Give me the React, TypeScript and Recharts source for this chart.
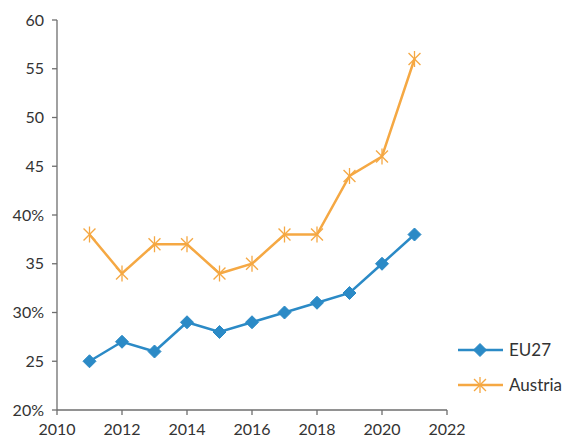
import React from "react";
import { LineChart, Line, XAxis, YAxis } from "recharts";

const years = [2011, 2012, 2013, 2014, 2015, 2016, 2017, 2018, 2019, 2020, 2021];
const eu27 = [25, 27, 26, 29, 28, 29, 30, 31, 32, 35, 38];
const austria = [38, 34, 37, 37, 34, 35, 38, 38, 44, 46, 56];
const xTicks = [2010, 2012, 2014, 2016, 2018, 2020, 2022];
const yTicks = [20, 25, 30, 35, 40, 45, 50, 55, 60];
const yTickLabels: Record<number, string> = {
  20: "20%", 25: "25", 30: "30%", 35: "35", 40: "40%", 45: "45", 50: "50", 55: "55", 60: "60",
};

const data = years.map((y, i) => ({ year: y, EU27: eu27[i], Austria: austria[i] }));

const BLUE = "#2b8ac6";
const ORANGE = "#f5a843";
const AXIS = "#6e6e6e";
const TEXT = "#333333";
const FONT = "Lato, 'Open Sans', sans-serif";

const Diamond = (props: any) => {
  const { cx, cy } = props;
  if (cx == null || cy == null) return null;
  const r = 6.5;
  return (
    <path d={`M${cx},${cy - r}L${cx + r},${cy}L${cx},${cy + r}L${cx - r},${cy}Z`} fill={BLUE} stroke={BLUE} strokeWidth={1} />
  );
};

const Star = (props: any) => {
  const { cx, cy } = props;
  if (cx == null || cy == null) return null;
  const r = 7;
  const d = r * 0.85;
  return (
    <g stroke={ORANGE} strokeWidth={1.3} fill="none">
      <line x1={cx - d} y1={cy - d} x2={cx + d} y2={cy + d} />
      <line x1={cx - d} y1={cy + d} x2={cx + d} y2={cy - d} />
      <line x1={cx} y1={cy - r - 1} x2={cx} y2={cy + r + 1} />
    </g>
  );
};

const LegendBox = () => (
  <svg width={130} height={80} style={{ position: "absolute", left: 455, top: 335 }}>
    <line x1={3} y1={15} x2={48} y2={15} stroke={BLUE} strokeWidth={2.5} />
    <Diamond cx={25} cy={15} />
    <text x={54} y={21} fontFamily={FONT} fontSize={17} fill={TEXT}>EU27</text>
    <line x1={3} y1={50} x2={48} y2={50} stroke={ORANGE} strokeWidth={2.5} />
    <Star cx={25} cy={50} />
    <text x={54} y={56} fontFamily={FONT} fontSize={17} fill={TEXT}>Austria</text>
  </svg>
);

export default function App() {
  return (
    <div style={{ position: "absolute", left: 0, top: 0, width: 581, height: 439, background: "#fff" }}>
      <LineChart width={581} height={439} data={data} margin={{ top: 20, right: 134, bottom: 0, left: 0 }}>
        <XAxis
          dataKey="year"
          type="number"
          domain={[2010, 2022]}
          ticks={xTicks}
          tick={{ fontFamily: FONT, fontSize: 16, fill: TEXT }}
          tickSize={5}
          tickMargin={9}
          height={29}
          stroke={AXIS}
          axisLine={{ stroke: AXIS, strokeWidth: 1.3 }}
          tickLine={{ stroke: AXIS, strokeWidth: 1.3 }}
        />
        <YAxis
          type="number"
          domain={[20, 60]}
          ticks={yTicks}
          tickFormatter={(v: number) => yTickLabels[v]}
          tick={{ fontFamily: FONT, fontSize: 16, fill: TEXT }}
          tickSize={5}
          tickMargin={8}
          width={57}
          stroke={AXIS}
          axisLine={{ stroke: AXIS, strokeWidth: 1.3 }}
          tickLine={{ stroke: AXIS, strokeWidth: 1.3 }}
          interval={0}
        />
        <Line dataKey="EU27" stroke={BLUE} strokeWidth={2.5} dot={<Diamond />} activeDot={false} isAnimationActive={false} />
        <Line dataKey="Austria" stroke={ORANGE} strokeWidth={2.5} dot={<Star />} activeDot={false} isAnimationActive={false} />
      </LineChart>
      <LegendBox />
    </div>
  );
}
